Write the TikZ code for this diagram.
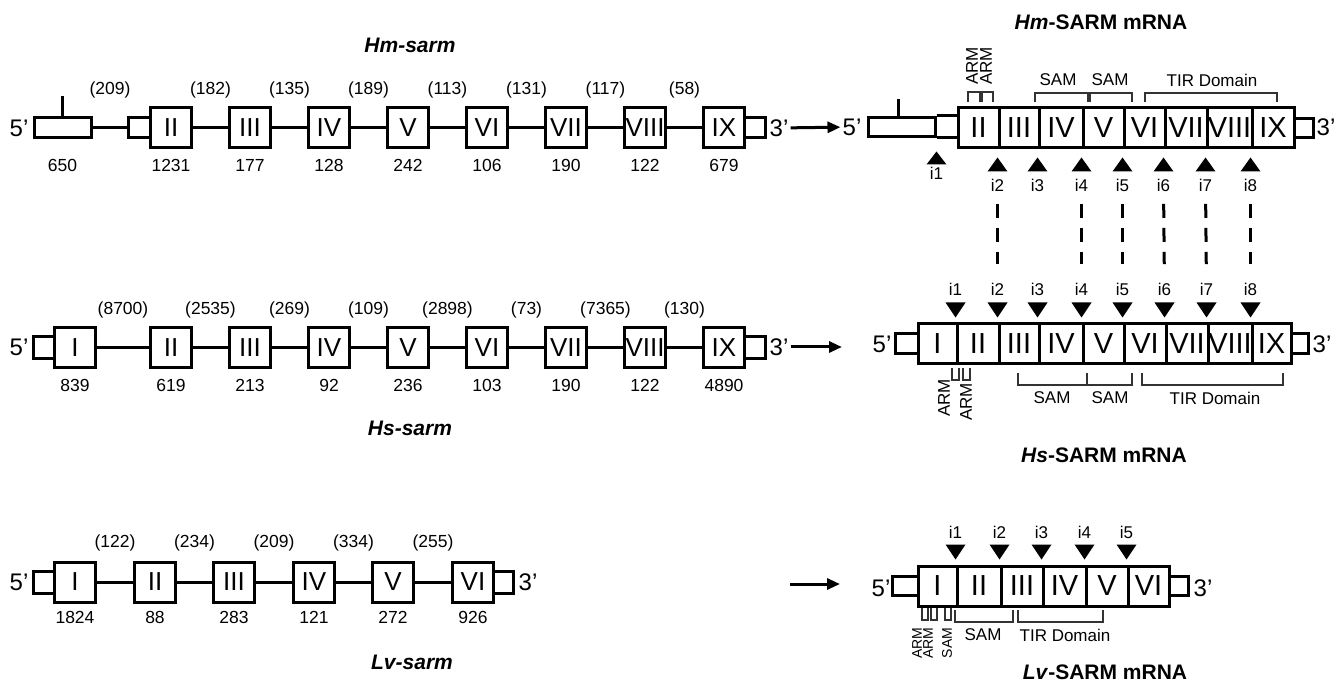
\documentclass[tikz,border=0pt]{standalone}
\usepackage{fontspec}
\setmainfont{Liberation Sans}
\usetikzlibrary{arrows.meta, calc}

\begin{document}
\begin{tikzpicture}[x=1pt, y=1pt,
  exon/.style={draw, line width=3pt, minimum width=41pt, minimum height=40pt,
               inner sep=0pt, font=\fontsize{26}{26}\selectfont},
  utr/.style={draw, line width=3pt, minimum height=20pt, inner sep=0pt},
  cell/.style={draw, line width=3pt, minimum height=40pt, inner sep=0pt,
               font=\fontsize{29}{29}\selectfont},
  intron/.style={line width=3pt},
  num/.style={font=\fontsize{17.5}{17.5}\selectfont, inner sep=1pt},
  prime/.style={font=\fontsize{24}{24}\selectfont, inner sep=2pt},
  tag/.style={font=\fontsize{17}{17}\selectfont, inner sep=1pt},
  dom/.style={font=\fontsize{17}{17}\selectfont, inner sep=0pt},
  brk/.style={line width=1.7pt, black!80},
  flow/.style={-{Triangle[length=13pt, width=11pt]}, line width=3pt},
  link/.style={line width=3pt, dash pattern=on 14pt off 10pt,
               shorten <=11pt, shorten >=18pt},
  gtitle/.style={font=\fontsize{21}{21}\selectfont\bfseries\itshape},
  rtitle/.style={font=\fontsize{21}{21}\selectfont\bfseries}
]
\useasboundingbox (0,0) rectangle (1344,-684);

% ---------- Hm-sarm gene
\node[gtitle] (hmgt) at (410,-45) {Hm-sarm};
\node[prime] (hm5p) at (19,-128) {5’};
\node[utr, minimum width=57pt] (hm1) at (62.5,-128) {};
\draw[intron] (hm1.north) -- ++(0,20);
\foreach \n/\x/\r in {2/171/II, 3/250/III, 4/329/IV, 5/408/V, 6/487/VI,
                      7/566/VII, 8/645/VIII, 9/724/IX}
  \node[exon] (hm\n) at (\x,-128) {\r};
\coordinate (hm2u) at ($(hm2.west)+(-21,0)$);
\draw[intron] ($(hm2.west)+(0,10)$) -- ($(hm2u)+(0,10)$) -- ($(hm2u)+(0,-10)$)
  -- ($(hm2.west)+(0,-10)$);
\draw[intron] ($(hm9.east)+(0,10)$) -- ++(19,0) -- ++(0,-20) -- ++(-19,0);
\node[prime] (hm3p) at (779,-128) {3’};
\draw[intron] (hm1) -- (hm2u);
\foreach \a/\b in {2/3, 3/4, 4/5, 5/6, 6/7, 7/8, 8/9} \draw[intron] (hm\a) -- (hm\b);
\node[num] (hmt1) at (110,-90) {(209)};
\foreach \a/\b/\t in {2/3/182, 3/4/135, 4/5/189, 5/6/113, 6/7/131, 7/8/117, 8/9/58}
  \node[num] (hmt\a) at ($(hm\a)!0.5!(hm\b)+(0,38)$) {(\t)};
\foreach \n/\t in {1/650, 2/1231, 3/177, 4/128, 5/242, 6/106, 7/190, 8/122, 9/679}
  \node[num] (hmb\n) at ($(hm\n)+(0,-37)$) {\t};

% ---------- Hs-sarm gene
\node[gtitle] (hsgt) at (410,-428) {Hs-sarm};
\node[prime] (hs5p) at (19,-347) {5’};
\foreach \n/\x/\r in {1/75/I, 2/171/II, 3/250/III, 4/329/IV, 5/408/V, 6/487/VI,
                      7/566/VII, 8/645/VIII, 9/724/IX}
  \node[exon] (hs\n) at (\x,-348) {\r};
\draw[intron] ($(hs1.west)+(0,11)$) -- ++(-20,0) -- ++(0,-22) -- ++(20,0);
\draw[intron] ($(hs9.east)+(0,11)$) -- ++(19,0) -- ++(0,-22) -- ++(-19,0);
\node[prime] (hs3p) at (779,-347) {3’};
\foreach \a/\b in {1/2, 2/3, 3/4, 4/5, 5/6, 6/7, 7/8, 8/9} \draw[intron] (hs\a) -- (hs\b);
\foreach \a/\b/\t in {1/2/8700, 2/3/2535, 3/4/269, 4/5/109, 5/6/2898, 6/7/73,
                      7/8/7365, 8/9/130}
  \node[num] (hst\a) at ($(hs\a)!0.5!(hs\b)+(0,38)$) {(\t)};
\foreach \n/\t in {1/839, 2/619, 3/213, 4/92, 5/236, 6/103, 7/190, 8/122, 9/4890}
  \node[num] (hsb\n) at ($(hs\n)+(0,-37)$) {\t};

% ---------- Lv-sarm gene
\node[gtitle] (lvgt) at (412,-662) {Lv-sarm};
\node[prime] (lv5p) at (19,-582) {5’};
\foreach \n/\x/\r in {1/75/I, 2/155/II, 3/234/III, 4/314/IV, 5/393/V, 6/473/VI}
  \node[exon] (lv\n) at (\x,-582) {\r};
\draw[intron] ($(lv1.west)+(0,11)$) -- ++(-20,0) -- ++(0,-22) -- ++(20,0);
\draw[intron] ($(lv6.east)+(0,11)$) -- ++(18,0) -- ++(0,-22) -- ++(-18,0);
\node[prime] (lv3p) at (528,-582) {3’};
\foreach \a/\b in {1/2, 2/3, 3/4, 4/5, 5/6} \draw[intron] (lv\a) -- (lv\b);
\foreach \a/\b/\t in {1/2/122, 2/3/234, 3/4/209, 4/5/334, 5/6/255}
  \node[num] (lvt\a) at ($(lv\a)!0.5!(lv\b)+(0,39)$) {(\t)};
\foreach \n/\t in {1/1824, 2/88, 3/283, 4/121, 5/272, 6/926}
  \node[num] (lvb\n) at ($(lv\n)+(0,-35)$) {\t};

% ---------- Hm-SARM mRNA
\node[rtitle] (hmrt) at (1101,-22) {\textit{Hm}-SARM mRNA};
\node[prime] (hmr5p) at (852,-127) {5’};
\node[utr, minimum width=67pt, minimum height=19pt] (hmr1) at (901.5,-127) {};
\draw[intron] ($(hmr1.north)+(-3.5,0)$) -- ++(0,17);
\foreach \n/\x/\w/\r in {2/978.5/41/II, 3/1019/40/III, 4/1061/44/IV, 5/1103.5/41/V,
                         6/1144.5/41/VI, 7/1186/42/VII, 8/1229.5/45/VIII, 9/1273/42/IX}
  \node[cell, minimum width=\w pt] (hmr\n) at (\x,-128) {\r};
\draw[intron] (hmr1.north east) -- (hmr1.north east -| hmr2.west);
\draw[intron] (hmr1.south east) -- (hmr1.south east -| hmr2.west);
\draw[intron] ($(hmr9.east)+(0,9.5)$) -- ++(18,0) -- ++(0,-19) -- ++(-18,0);
\node[prime] (hmr3p) at (1326,-127) {3’};
\draw[flow] (hm3p) -- (hmr5p);
% domains
\draw[brk] (968,-102) -- (968,-92) -- (980,-92) -- (980,-102);
\draw[brk] (982,-102) -- (982,-92) -- (993,-92) -- (993,-102);
\node[dom, rotate=90] (hmarm1) at (972,-66) {ARM};
\node[dom, rotate=90] (hmarm2) at (986,-66) {ARM};
\draw[brk] (1035,-102) -- (1035,-93) -- (1088,-93) -- (1088,-102);
\draw[brk] (1090,-102) -- (1090,-93) -- (1132,-93) -- (1132,-102);
\draw[brk] (1145,-102) -- (1145,-93) -- (1277,-93) -- (1277,-102);
\node[dom] (hmsam1) at (1058,-80) {SAM};
\node[dom] (hmsam2) at (1110,-80) {SAM};
\node[dom] (hmtir) at (1212,-80) {TIR Domain};
% introns
\fill ($(hmr1.south east)+(0,-13.5)$) -- ++(-10,-13) -- ++(20,0) -- cycle;
\node[tag] (hmi1) at ($(hmr1.south east)+(0,-35)$) {i1};
\foreach \n [count=\k from 2] in {3,...,9} {
  \fill ($(hmr\n.south west)+(0,-8)$) -- ++(-10,-14) -- ++(20,0) -- cycle;
  \node[tag] (hmi\k) at ($(hmr\n.south west)+(0,-36)$) {i\k};
}

% ---------- Hs-SARM mRNA
\node[rtitle] (hsrt) at (1104,-455) {\textit{Hs}-SARM mRNA};
\node[prime] (hsr5p) at (882,-344) {5’};
\foreach \n/\x/\w/\r in {1/937.5/39/I, 2/978/42/II, 3/1019/40/III, 4/1061/44/IV,
                         5/1103.5/41/V, 6/1145/42/VI, 7/1187/42/VII, 8/1230/44/VIII,
                         9/1271.5/39/IX}
  \node[cell, minimum width=\w pt] (hsr\n) at (\x,-344) {\r};
\draw[intron] ($(hsr1.west)+(0,10)$) -- ++(-21,0) -- ++(0,-20) -- ++(21,0);
\draw[intron] ($(hsr9.east)+(0,10)$) -- ++(16,0) -- ++(0,-20) -- ++(-16,0);
\node[prime] (hsr3p) at (1322,-344) {3’};
\coordinate (hsae) at (842,-347);
\draw[flow] (hs3p) -- (hsae);
% domains
\draw[brk] (952,-368) -- (952,-380) -- (959,-380) -- (959,-368);
\draw[brk] (963,-368) -- (963,-380) -- (970,-380) -- (970,-368);
\node[dom, rotate=90] (hsarm1) at (944,-398) {ARM};
\node[dom, rotate=90] (hsarm2) at (966,-402) {ARM};
\draw[brk] (1018,-373) -- (1018,-385) -- (1087,-385) -- (1087,-373);
\draw[brk] (1087,-385) -- (1132,-385) -- (1132,-373);
\draw[brk] (1142,-373) -- (1142,-385) -- (1283,-385) -- (1283,-373);
\node[dom] (hssam1) at (1052,-398) {SAM};
\node[dom] (hssam2) at (1110,-398) {SAM};
\node[dom] (hstir) at (1215,-398) {TIR Domain};
% introns
\foreach \n [count=\k] in {2,...,9} {
  \fill ($(hsr\n.north west)+(0,5)$) -- ++(-10,15) -- ++(20,0) -- cycle;
  \node[tag] (hsi\k) at ($(hsr\n.north west)+(0,33)$) {i\k};
}
\foreach \k in {2,4,5,6,7,8} \draw[link] (hmi\k) -- (hsi\k);

% ---------- Lv-SARM mRNA
\node[rtitle] (lvrt) at (1105,-672) {\textit{Lv}-SARM mRNA};
\node[prime] (lvr5p) at (881,-588) {5’};
\foreach \n/\x/\w/\r in {1/937.5/39/I, 2/979/44/II, 3/1022/42/III, 4/1064.5/43/IV,
                         5/1107/42/V, 6/1148.5/41/VI}
  \node[cell, minimum width=\w pt] (lvr\n) at (\x,-586) {\r};
\draw[intron] ($(lvr1.west)+(0,9.5)$) -- ++(-24,0) -- ++(0,-19) -- ++(24,0);
\draw[intron] ($(lvr6.east)+(0,9.5)$) -- ++(18,0) -- ++(0,-19) -- ++(-18,0);
\node[prime] (lvr3p) at (1203,-588) {3’};
\coordinate (lvas) at (790,-584);
\coordinate (lvae) at (840,-584);
\draw[flow] (lvas) -- (lvae);
% domains
\draw[brk] (922,-608) -- (922,-620) -- (928,-620) -- (928,-608);
\draw[brk] (931,-608) -- (931,-620) -- (937,-620) -- (937,-608);
\draw[brk] (945,-608) -- (945,-620) -- (951,-620) -- (951,-608);
\draw[brk] (955,-610) -- (955,-622) -- (1013,-622) -- (1013,-610);
\draw[brk] (1018,-610) -- (1018,-622) -- (1103,-622) -- (1103,-610);
\node[dom, rotate=90, font=\fontsize{14}{14}\selectfont] (lvarm1) at (917,-643) {ARM};
\node[dom, rotate=90, font=\fontsize{14}{14}\selectfont] (lvarm2) at (928,-643) {ARM};
\node[dom, rotate=90, font=\fontsize{14}{14}\selectfont] (lvsam0) at (947,-643) {SAM};
\node[dom] (lvsam1) at (983,-635) {SAM};
\node[dom] (lvtir) at (1065,-635) {TIR Domain};
% introns
\foreach \n [count=\k] in {2,...,6} {
  \fill ($(lvr\n.north west)+(0,5)$) -- ++(-10,15) -- ++(20,0) -- cycle;
  \node[tag] (lvi\k) at ($(lvr\n.north west)+(0,32)$) {i\k};
}
\end{tikzpicture}
\end{document}
